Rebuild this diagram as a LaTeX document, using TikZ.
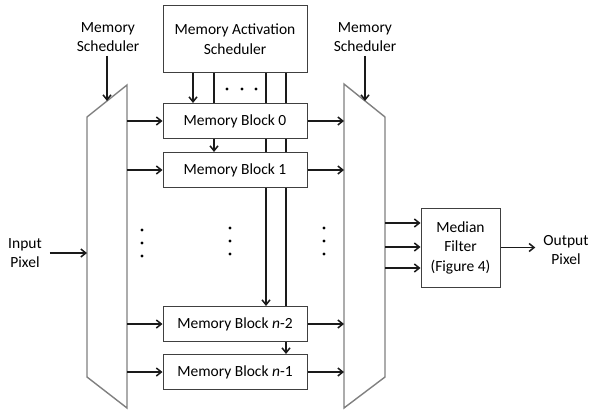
\documentclass[tikz,border=0pt]{standalone}
\usepackage{fontspec}
\setmainfont{Carlito}
\usetikzlibrary{arrows.meta,backgrounds,calc}
\definecolor{boxline}{HTML}{404040}
\definecolor{muxline}{HTML}{808080}
\definecolor{arrline}{HTML}{1A1A1A}
\begin{document}
\begin{tikzpicture}[x=1pt,y=-1pt,
  font=\fontsize{15.5}{19.5}\selectfont,
  blk/.style={draw=boxline, line width=1pt, fill=white, minimum width=144pt,
              minimum height=35pt, inner sep=0pt},
  mux/.style={draw=muxline, line width=1.4pt, fill=white, line join=miter},
  arr/.style={draw=arrline, line width=1.5pt, -{Straight Barb[length=5pt,width=8pt]}},
  ln/.style={draw=arrline, line width=1.5pt},
  lbl/.style={align=center, inner sep=0pt}]
\useasboundingbox (0,0) rectangle (589,412);

% demultiplexer (left) and multiplexer (right)
\coordinate (LTL) at (87,117);
\coordinate (LTR) at (127,85);
\coordinate (LBR) at (127,408);
\coordinate (LBL) at (87,377);
\coordinate (RTL) at (344,84);
\coordinate (RTR) at (385,117);
\coordinate (RBR) at (385,377);
\coordinate (RBL) at (344,408);
\draw[mux] (LTL) -- (LTR) -- (LBR) -- (LBL) -- cycle;
\draw[mux] (RTL) -- (RTR) -- (RBR) -- (RBL) -- cycle;

% blocks
\node[blk, minimum height=67pt, align=center] (mas) at (235,39) {Memory Activation\\Scheduler};
\node[blk] (mb0)  at (235,121) {Memory Block 0};
\node[blk] (mb1)  at (235,170) {Memory Block 1};
\node[blk] (mbn2) at (235,324) {Memory Block \textit{n}-2};
\node[blk] (mbn1) at (235,372) {Memory Block \textit{n}-1};
\node[blk, minimum width=79pt, minimum height=79pt, align=center] (mf) at (460.5,247.5)
  {Median\\Filter\\(Figure 4)};

% labels
\node[lbl] (msl) at (108,37) {Memory\\Scheduler};
\node[lbl] (msr) at (365,37) {Memory\\Scheduler};
\node[lbl] (inp) at (25,253) {Input\\Pixel};
\node[lbl] (outp) at (566,250) {Output\\Pixel};

% activation lines from the scheduler, behind the blocks
\coordinate (c1) at (193,0);
\coordinate (c2) at (214,0);
\coordinate (c3) at (266,0);
\coordinate (c4) at (286,0);
\begin{scope}[on background layer]
  \draw[ln] (mas.south -| c2) -- (mb0.north -| c2);
  \draw[arr] (mas.south -| c3) -- (mbn2.north -| c3);
  \draw[ln] (mas.south -| c4) -- (mbn2.north -| c4);
\end{scope}
\draw[arr] (mas.south -| c1) -- (mb0.north -| c1);
\draw[arr] (mb0.south -| c2) -- (mb1.north -| c2);
\draw[arr] (mbn2.south -| c4) -- (mbn1.north -| c4);

% scheduler control arrows
\coordinate (sl) at (107,101);
\coordinate (sr) at (365,101);
\draw[arr] ($(msl.south)+(-1,4)$) -- (sl);
\draw[arr] ($(msr.south)+(0,4)$) -- (sr);

% data paths through the blocks
\foreach \b in {mb0,mb1,mbn2,mbn1} {
  \draw[arr] (\b.west -| LTR) -- (\b.west);
  \draw[arr] (\b.east) -- (\b.east -| RTL);
}

% into the median filter
\foreach \d/\n in {-24.5/m1,-0.5/m2,20.5/m3} {
  \coordinate (\n) at ($(mf.west)+(0,\d)$);
  \draw[arr] (\n -| RTR) -- (\n);
}

% input and output
\draw[arr] ($(inp.east)+(8,0)$) -- (inp.east -| LTL);
\coordinate (oe) at ($(outp.west)+(-8,0)$);
\draw[arr] (mf.east) -- (oe |- mf.east);

% ellipses
\foreach \x in {227,242,256} \fill (\x,89) circle (1.6);
\foreach \y in {230,243,256} \fill (142,\y) circle (1.6);
\foreach \y in {228,241,254} {
  \fill (230,\y) circle (1.6);
  \fill (324,\y) circle (1.6);
}
\end{tikzpicture}
\end{document}
